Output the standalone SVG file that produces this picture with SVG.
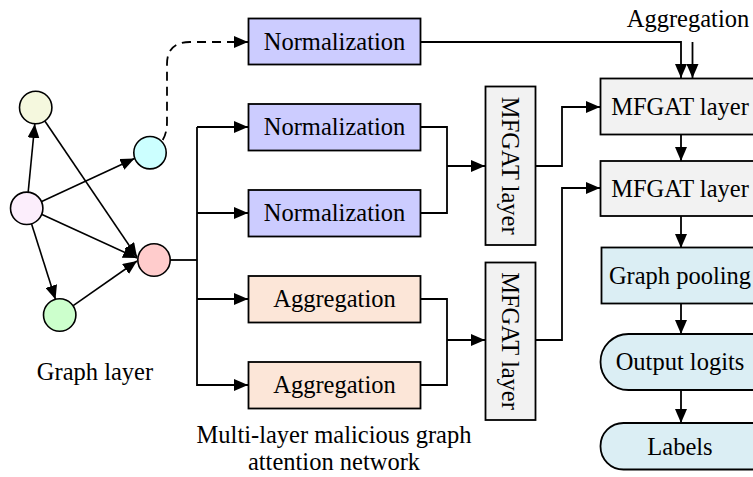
<svg xmlns="http://www.w3.org/2000/svg" width="753" height="477" viewBox="0 0 753 477">
  <defs>
    <marker id="arrow" markerUnits="userSpaceOnUse" markerWidth="14" markerHeight="12" refX="14" refY="6" orient="auto">
      <path d="M0,0 L14,6 L0,12 z" fill="#000"/>
    </marker>
    <style>
      text { font-family: "Liberation Serif", "Times New Roman", serif; font-size: 24.5px; fill: #000; }
      .mid { text-anchor: middle; }
      .box { stroke: #000; stroke-width: 1.8; }
      .norm { fill: #CCCCFF; }
      .agg { fill: #FCE6D8; }
      .mfgat { fill: #F2F2F2; }
      .out { fill: #DBEEF4; }
      .node { stroke: #000; stroke-width: 1.6; }
      .wire { fill: none; stroke: #000; stroke-width: 1.8; }
      .edge { fill: none; stroke: #000; stroke-width: 1.6; }
      .arr { marker-end: url(#arrow); }
      .dash { stroke-dasharray: 9 6; }
    </style>
  </defs>

  <!-- connectors -->
  <g id="connectors">
    <!-- graph edges -->
    <line class="edge arr" x1="28.2" y1="191.9" x2="34.8" y2="124"/>
    <line class="edge arr" x1="41.7" y1="201.5" x2="134.5" y2="158.5"/>
    <line class="edge arr" x1="42" y1="214.5" x2="137" y2="258"/>
    <line class="edge arr" x1="31.6" y1="224" x2="55.5" y2="299.5"/>
    <line class="edge arr" x1="45" y1="121.2" x2="137" y2="257"/>
    <line class="edge arr" x1="73.2" y1="305.6" x2="137" y2="261"/>
    <!-- dashed link to top normalization -->
    <path class="wire arr dash" d="M162.7,140 Q167,133 167,122 L167,64 Q167,42 190,42 L248,42"/>
    <!-- trunk from graph to the four branches -->
    <path class="wire" d="M170,260 L197,260"/>
    <path class="wire" d="M197,127 L197,386"/>
    <path class="wire arr" d="M197,127 L248,127"/>
    <path class="wire arr" d="M197,213 L248,213"/>
    <path class="wire arr" d="M197,299 L248,299"/>
    <path class="wire arr" d="M197,385 L248,385"/>
    <!-- normalization pair into first vertical MFGAT -->
    <path class="wire" d="M421,127 L447,127 L447,213 L421,213"/>
    <path class="wire arr" d="M447,166 L485,166"/>
    <!-- aggregation pair into second vertical MFGAT -->
    <path class="wire" d="M421,299 L447,299 L447,385 L421,385"/>
    <path class="wire arr" d="M447,340 L485,340"/>
    <!-- vertical MFGAT outputs to right column -->
    <path class="wire arr" d="M535,166 L562,166 L562,107 L600,107"/>
    <path class="wire arr" d="M535,340 L562,340 L562,188 L600,188"/>
    <!-- top normalization and aggregation inputs -->
    <path class="wire arr" d="M421,42 L681,42 L681,78"/>
    <path class="wire arr" d="M692.5,42 L692.5,78"/>
    <!-- right column chain -->
    <path class="wire arr" d="M681,134 L681,161"/>
    <path class="wire arr" d="M681,216 L681,248"/>
    <path class="wire arr" d="M681,303 L681,334"/>
    <path class="wire arr" d="M681,390 L681,423"/>
  </g>

  <!-- graph nodes -->
  <g id="node-yellow"><circle class="node" cx="35.7" cy="107.5" r="16.2" fill="#F5F8DE"/></g>
  <g id="node-lavender"><circle class="node" cx="26.7" cy="208.3" r="16.2" fill="#FCEEFC"/></g>
  <g id="node-cyan"><circle class="node" cx="150" cy="152.7" r="16.2" fill="#CCFFFF"/></g>
  <g id="node-red"><circle class="node" cx="154" cy="260" r="16.2" fill="#FFCCCC"/></g>
  <g id="node-green"><circle class="node" cx="59.7" cy="315" r="16.2" fill="#CCFFCC"/></g>
  <g id="label-graph-layer"><text class="mid" x="95" y="380">Graph layer</text></g>

  <!-- first stage boxes -->
  <g id="norm-top">
    <rect class="box norm" x="248.5" y="18.5" width="172" height="46"/>
    <text class="mid" x="334.5" y="49.5">Normalization</text>
  </g>
  <g id="norm-1">
    <rect class="box norm" x="248.5" y="104" width="172" height="46.5"/>
    <text class="mid" x="334.5" y="135">Normalization</text>
  </g>
  <g id="norm-2">
    <rect class="box norm" x="248.5" y="190" width="172" height="46.5"/>
    <text class="mid" x="334.5" y="221">Normalization</text>
  </g>
  <g id="agg-1">
    <rect class="box agg" x="248.5" y="276" width="172" height="46.5"/>
    <text class="mid" x="334.5" y="307">Aggregation</text>
  </g>
  <g id="agg-2">
    <rect class="box agg" x="248.5" y="362" width="172" height="46.5"/>
    <text class="mid" x="334.5" y="393">Aggregation</text>
  </g>
  <g id="label-network">
    <text class="mid" x="334" y="443">Multi-layer malicious graph</text>
    <text class="mid" x="334" y="470">attention network</text>
  </g>

  <!-- vertical MFGAT layers -->
  <g id="mfgat-v1">
    <rect class="box mfgat" x="485.5" y="86.5" width="50" height="158.5"/>
    <text class="mid" transform="translate(502,165.7) rotate(90)">MFGAT layer</text>
  </g>
  <g id="mfgat-v2">
    <rect class="box mfgat" x="485.5" y="262.5" width="50" height="157.5"/>
    <text class="mid" transform="translate(502,341) rotate(90)">MFGAT layer</text>
  </g>

  <!-- right column -->
  <g id="label-aggregation"><text class="mid" x="688" y="27">Aggregation</text></g>
  <g id="mfgat-1">
    <rect class="box mfgat" x="600.5" y="78.5" width="162" height="56"/>
    <text class="mid" x="680" y="114.5">MFGAT layer</text>
  </g>
  <g id="mfgat-2">
    <rect class="box mfgat" x="600.5" y="161" width="162" height="55"/>
    <text class="mid" x="680" y="196.5">MFGAT layer</text>
  </g>
  <g id="graph-pooling">
    <rect class="box out" x="601.5" y="247.5" width="162" height="56"/>
    <text class="mid" x="680" y="283.5">Graph pooling</text>
  </g>
  <g id="output-logits">
    <rect class="box out" x="600.5" y="334" width="180" height="56" rx="28" ry="28"/>
    <text class="mid" x="680" y="370">Output logits</text>
  </g>
  <g id="labels">
    <rect class="box out" x="600.5" y="423" width="180" height="46.5" rx="23" ry="23"/>
    <text class="mid" x="680" y="454.5">Labels</text>
  </g>
</svg>
